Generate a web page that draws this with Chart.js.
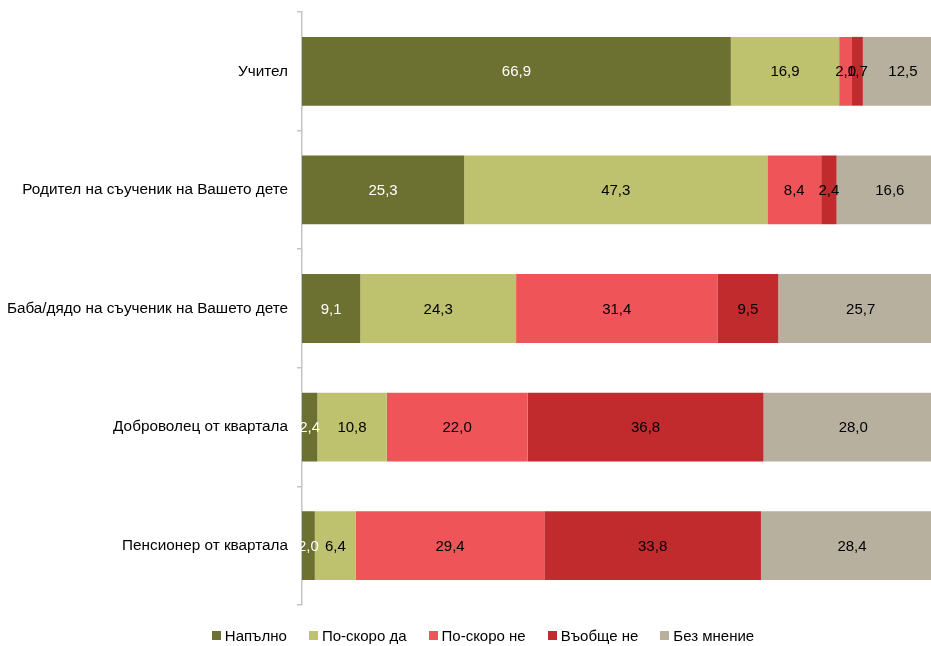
<!DOCTYPE html>
<html lang="bg">
<head>
<meta charset="utf-8">
<script src="https://cdn.jsdelivr.net/npm/chart.js@4/dist/chart.umd.min.js"></script>
<style>
  html, body { margin: 0; padding: 0; background: #fff; overflow: hidden; }
  #wrap { position: relative; width: 944px; height: 646px; }
  #legend {
    position: absolute; left: 0; width: 966px; top: 627px;
    display: flex; justify-content: center;
    font: 15px "Liberation Sans", Arial, sans-serif; color: #000;
  }
  #legend span.item { display: inline-flex; align-items: center; margin: 0 11px; }
  #legend span.box { width: 9px; height: 9px; margin-right: 4px; display: inline-block; }
</style>
</head>
<body>
<div id="wrap">
  <canvas id="chart"></canvas>
  <div id="legend"></div>
</div>
<script>
// Stacked 100% bar — trust toward different people
var categories = [
  "Учител",
  "Родител на съученик на Вашето дете",
  "Баба/дядо на съученик на Вашето дете",
  "Доброволец от квартала",
  "Пенсионер от квартала"
];
var seriesNames = ["Напълно", "По-скоро да", "По-скоро не", "Въобще не", "Без мнение"];
var fullyYes   = [66.9, 25.3, 9.1, 2.4, 2.0];
var ratherYes  = [16.9, 47.3, 24.3, 10.8, 6.4];
var ratherNo   = [2.0, 8.4, 31.4, 22.0, 29.4];
var notAtAll   = [1.7, 2.4, 9.5, 36.8, 33.8];
var noOpinion  = [12.5, 16.6, 25.7, 28.0, 28.4];
var seriesColors = ["#6c7031", "#bec26f", "#ef5558", "#c12b2d", "#b8b09e"];
var labelColors  = ["#fff", "#000", "#000", "#000", "#000"];

var allSeries = [fullyYes, ratherYes, ratherNo, notAtAll, noOpinion];

var FONT = '"Liberation Sans", Arial, sans-serif';

// draw value in the middle of each segment
var valueLabels = {
  id: "valueLabels",
  afterDatasetsDraw: function (chart) {
    var ctx = chart.ctx;
    ctx.save();
    ctx.font = "15px " + FONT;
    ctx.textAlign = "center";
    ctx.textBaseline = "middle";
    chart.data.datasets.forEach(function (ds, i) {
      var meta = chart.getDatasetMeta(i);
      meta.data.forEach(function (bar, j) {
        var p = bar.getProps(["x", "y", "base"], true);
        ctx.fillStyle = labelColors[i];
        ctx.fillText(ds.data[j].toFixed(1).replace(".", ","), (p.x + p.base) / 2, p.y + 1);
      });
    });
    ctx.restore();
  }
};

var ctx = document.getElementById("chart").getContext("2d");
new Chart(ctx, {
  type: "bar",
  data: {
    labels: categories,
    datasets: allSeries.map(function (vals, i) {
      return {
        label: seriesNames[i],
        data: vals,
        backgroundColor: seriesColors[i],
        borderWidth: 0,
        barPercentage: 1,
        categoryPercentage: 0.58
      };
    })
  },
  options: {
    indexAxis: "y",
    responsive: true,
    maintainAspectRatio: false,
    animation: false,
    layout: { padding: { top: 12, bottom: 41, left: 0, right: 1 } },
    plugins: {
      legend: { display: false },
      tooltip: { enabled: false }
    },
    scales: {
      x: {
        stacked: true,
        min: 0,
        max: 100,
        display: false
      },
      y: {
        stacked: true,
        afterFit: function (scale) {
          scale.width = 302;
          scale.paddingTop = 0;
          scale.paddingBottom = 0;
        },
        grid: {
          offset: true,
          drawOnChartArea: false,
          tickLength: 5,
          color: "#c4c4c4",
          lineWidth: 1.5
        },
        border: { color: "#c4c4c4", width: 1.5 },
        ticks: {
          padding: 9,
          color: "#000",
          font: { family: FONT, size: 15.3 }
        }
      }
    }
  },
  plugins: [valueLabels]
});

// legend
var legend = document.getElementById("legend");
legend.innerHTML = seriesNames.map(function (name, i) {
  return '<span class="item"><span class="box" style="background:' + seriesColors[i] + '"></span>' + name + '</span>';
}).join("");
</script>
</body>
</html>
